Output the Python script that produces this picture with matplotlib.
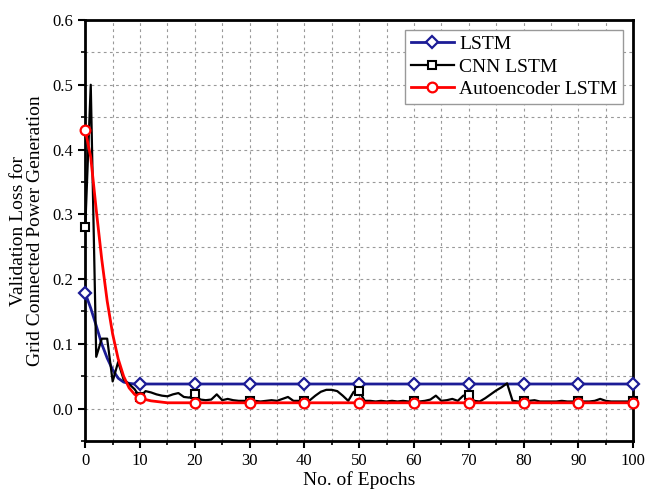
import matplotlib.pyplot as plt
from matplotlib.ticker import MultipleLocator

plt.rcParams['font.family'] = ['Liberation Serif', 'DejaVu Serif']

epochs = list(range(0, 101))

lstm = [0.178, 0.155, 0.128, 0.100, 0.078, 0.060, 0.047, 0.041, 0.039, 0.038] + [0.038] * 91

cnn_lstm = [0.280, 0.500, 0.080, 0.108, 0.108, 0.042, 0.072, 0.045, 0.038, 0.030,
            0.018, 0.027, 0.025, 0.022, 0.020, 0.019, 0.022, 0.024, 0.018, 0.017,
            0.022, 0.014, 0.013, 0.014, 0.022, 0.013, 0.015, 0.013, 0.012, 0.012,
            0.012, 0.012, 0.011, 0.012, 0.013, 0.012, 0.015, 0.018, 0.012, 0.012,
            0.012, 0.013, 0.020, 0.026, 0.029, 0.029, 0.027, 0.020, 0.012, 0.026,
            0.027, 0.012, 0.012, 0.011, 0.012, 0.011, 0.012, 0.011, 0.012, 0.011,
            0.012, 0.011, 0.012, 0.014, 0.020, 0.012, 0.013, 0.015, 0.012, 0.020,
            0.021, 0.012, 0.011, 0.016, 0.022, 0.028, 0.033, 0.039, 0.012, 0.011,
            0.011, 0.012, 0.013, 0.011, 0.011, 0.011, 0.011, 0.012, 0.011, 0.011,
            0.011, 0.011, 0.011, 0.012, 0.015, 0.012, 0.011, 0.011, 0.011, 0.011,
            0.011]

ae_lstm = [0.430, 0.388, 0.307, 0.231, 0.166, 0.115, 0.077, 0.050, 0.032, 0.022,
           0.017, 0.014, 0.012, 0.011, 0.010] + [0.009] * 86

fig = plt.figure(figsize=(6.46, 5.0), dpi=100)
ax = fig.add_axes([0.132, 0.118, 0.848, 0.842])

ax.plot(epochs, lstm, color='#1c1c96', lw=2, marker='D', markevery=10, ms=6,
        mfc='white', mec='#1c1c96', mew=1.6, label='LSTM', clip_on=False, zorder=3)
ax.plot(epochs, cnn_lstm, color='black', lw=1.6, marker='s', markevery=10, ms=6,
        mfc='white', mec='black', mew=1.5, label='CNN LSTM', clip_on=False, zorder=3)
ax.plot(epochs, ae_lstm, color='red', lw=2, marker='o', markevery=10, ms=7,
        mfc='white', mec='red', mew=1.6, label='Autoencoder LSTM', clip_on=False, zorder=4)

ax.set_xlim(0, 100)
ax.set_ylim(-0.05, 0.6)
ax.xaxis.set_major_locator(MultipleLocator(10))
ax.xaxis.set_minor_locator(MultipleLocator(5))
ax.yaxis.set_major_locator(MultipleLocator(0.1))
ax.yaxis.set_minor_locator(MultipleLocator(0.05))
ax.set_yticks([0.0, 0.1, 0.2, 0.3, 0.4, 0.5, 0.6])
ax.set_yticklabels(['0.0', '0.1', '0.2', '0.3', '0.4', '0.5', '0.6'])

ax.grid(which='both', color='#999999', linestyle=(0, (2.5, 3)), linewidth=0.8)
ax.tick_params(which='major', direction='out', length=5, width=1.5, labelsize=12)
ax.tick_params(which='minor', direction='out', length=3, width=1.2)
for s in ax.spines.values():
    s.set_linewidth(2)

ax.set_xlabel('No. of Epochs', fontsize=14, labelpad=2)
ax.set_ylabel('Validation Loss for\nGrid Connected Power Generation', fontsize=14,
              linespacing=1.0, labelpad=6)

leg = ax.legend(loc='upper right', fontsize=14, frameon=True, fancybox=False,
                edgecolor='#999999', framealpha=1, borderpad=0.3, labelspacing=0.25,
                handlelength=2.2, handletextpad=0.3, borderaxespad=0.5)
leg.get_frame().set_linewidth(1.0)

plt.savefig('out.png', dpi=100)
